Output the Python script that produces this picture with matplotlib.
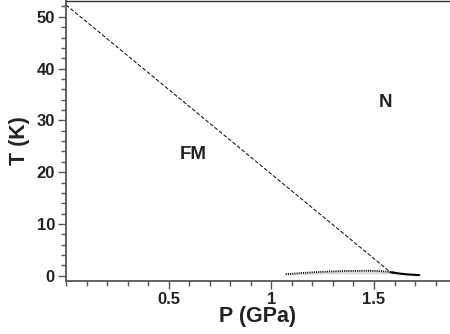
import matplotlib
matplotlib.use("Agg")
import matplotlib.pyplot as plt
from matplotlib.ticker import MultipleLocator

plt.rcParams['font.family'] = ['Liberation Sans', 'DejaVu Sans']
plt.rcParams['font.weight'] = 'bold'

# Data
p_dash = [0.0, 1.58]
t_dash = [52.3, 0.7]

p_dot = [1.07, 1.15, 1.25, 1.35, 1.45, 1.52, 1.58, 1.62]
t_dot = [0.30, 0.55, 0.78, 0.92, 0.98, 0.93, 0.75, 0.50]
t_band_low = [0.25, 0.30, 0.35, 0.40, 0.40, 0.40, 0.40, 0.40]

p_solid = [1.58, 1.62, 1.66, 1.70, 1.72]
t_solid = [0.70, 0.45, 0.28, 0.18, 0.15]

x_ticks = [0.5, 1.0, 1.5]
x_ticklabels = ['0.5', '1', '1.5']
y_ticks = [0, 10, 20, 30, 40, 50]

fig = plt.figure(figsize=(4.5, 3.34), dpi=100)
ax = fig.add_axes([66/450, 53/334, 1 - 66/450, 280/334])

ax.fill_between(p_dot, t_band_low, t_dot, color='#d8d8d8', lw=0)
ax.plot(p_dash, t_dash, color='black', lw=0.7, ls=(0, (4, 2)))
ax.plot(p_dot, t_dot, color='black', lw=1.3, ls=(0, (0.6, 0.6)))
ax.plot(p_solid, t_solid, color='black', lw=1.5, solid_capstyle='round')

ax.set_xlim(0, 1.87)
ax.set_ylim(-1, 53.05)

ax.spines['right'].set_visible(False)
ax.spines['top'].set_color('#333333')
ax.spines['top'].set_linewidth(1.0)
for s in ['left', 'bottom']:
    ax.spines[s].set_color('#555555')
    ax.spines[s].set_linewidth(1.3)

ax.set_xticks(x_ticks)
ax.set_xticklabels(x_ticklabels)
ax.set_yticks(y_ticks)
ax.xaxis.set_minor_locator(MultipleLocator(0.1))
ax.yaxis.set_minor_locator(MultipleLocator(2))
ax.tick_params(which='major', direction='out', length=6, width=1.0, color='#555555',
               labelsize=12, labelcolor='#222222', top=False, right=False, pad=2)
ax.tick_params(which='minor', direction='out', length=3.5, width=1.0, color='#555555',
               top=False, right=False)

ax.set_xlabel('P (GPa)', fontsize=15.5, fontweight='bold', color='#222222', labelpad=-1)
ax.set_ylabel('T (K)', fontsize=15.5, fontweight='bold', color='#222222', labelpad=5)

ax.text(0.62, 23.4, 'FM', fontsize=13.5, fontweight='bold', color='#222222', ha='center', va='center')
ax.text(1.556, 33.4, 'N', fontsize=13.5, fontweight='bold', color='#222222', ha='center', va='center')

fig.savefig('out.png', dpi=100)
